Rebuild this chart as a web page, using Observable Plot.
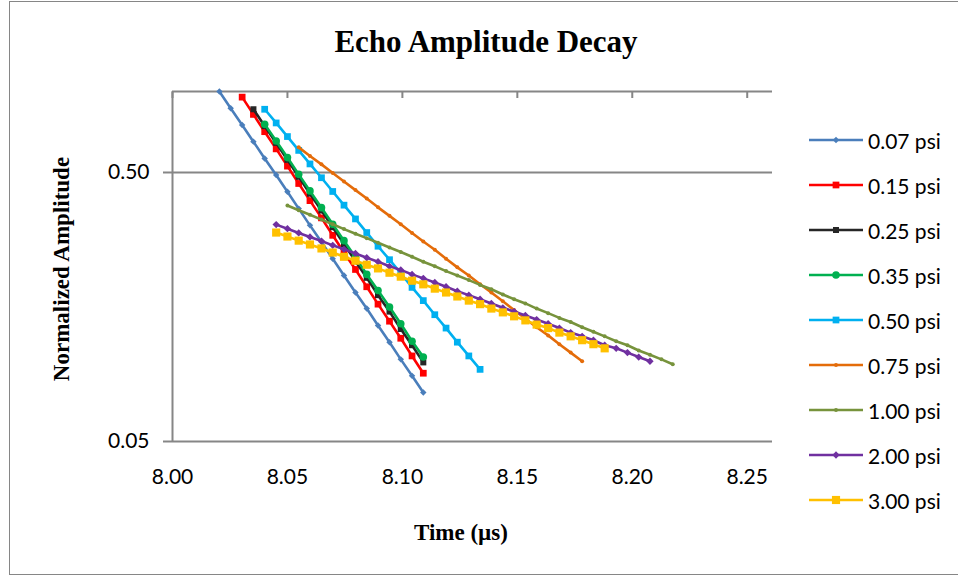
<!DOCTYPE html>
<html>
<head>
<meta charset="utf-8">
<script src="https://cdn.jsdelivr.net/npm/d3@7"></script>
<script src="https://cdn.jsdelivr.net/npm/@observablehq/plot@0.6"></script>
<style>
  body { margin: 0; background: #fff; }
  #wrap { position: relative; width: 958px; height: 577px; overflow: hidden; background: #fff; }
  #frame { position: absolute; left: 9px; top: 1px; width: 960px; height: 574px; border: 1px solid #868686; box-sizing: border-box; }
  .serif { position: absolute; font-family: "Liberation Serif", "Times New Roman", serif; font-weight: bold; color: #000; white-space: nowrap; }
  #title { left: 0; width: 972px; text-align: center; top: 22px; font-size: 31px; line-height: 40px; }
  #xlabel { left: 0; width: 922px; text-align: center; top: 518px; font-size: 23px; line-height: 30px; }
  #ylabel { left: 62px; top: 269px; font-size: 23px; line-height: 30px; transform: translate(-50%, -50%) rotate(-90deg); }
  #chart { position: absolute; left: 0; top: 0; }
  .leg { position: absolute; left: 809px; height: 24px; display: flex; align-items: center; font-family: Lato, "Open Sans", sans-serif; font-size: 21px; color: #000; white-space: nowrap; }
  .leg svg { margin-right: 5px; }
</style>
</head>
<body>
<div id="wrap">
  <div id="frame"></div>
  <div id="chart"></div>
  <div id="title" class="serif">Echo Amplitude Decay</div>
  <div id="xlabel" class="serif">Time (µs)</div>
  <div id="ylabel" class="serif">Normalized Amplitude</div>
</div>
<script>
// ---- data ----
const time = [8.0204, 8.0253, 8.0303, 8.0352, 8.0401, 8.0451, 8.0500, 8.0549, 8.0598, 8.0648,
              8.0697, 8.0746, 8.0796, 8.0845, 8.0894, 8.0944, 8.0993, 8.1042, 8.1091, 8.1141,
              8.1190, 8.1239, 8.1289, 8.1338, 8.1387, 8.1437, 8.1486, 8.1535, 8.1584, 8.1634,
              8.1683, 8.1732, 8.1782, 8.1831, 8.1880, 8.1930, 8.1979, 8.2028, 8.2077, 8.2127, 8.2176];

const seriesLabels = ["0.07 psi", "0.15 psi", "0.25 psi", "0.35 psi", "0.50 psi", "0.75 psi", "1.00 psi", "2.00 psi", "3.00 psi"];
// index into `time` of each series' first sample
const firstSample = [0, 2, 3, 4, 4, 7, 6, 5, 5];

const amp007 = [1.000, 0.867, 0.751, 0.651, 0.564, 0.489, 0.424, 0.367, 0.318, 0.276, 0.239, 0.207, 0.179, 0.156, 0.135, 0.117, 0.101, 0.0877, 0.0760];
const amp015 = [0.953, 0.822, 0.709, 0.612, 0.528, 0.455, 0.393, 0.339, 0.292, 0.252, 0.218, 0.188, 0.162, 0.140, 0.121, 0.104, 0.0897];
const amp025 = [0.859, 0.744, 0.644, 0.557, 0.482, 0.417, 0.361, 0.313, 0.271, 0.234, 0.203, 0.175, 0.152, 0.131, 0.114, 0.0984];
const amp035 = [0.755, 0.655, 0.568, 0.492, 0.427, 0.370, 0.321, 0.279, 0.242, 0.209, 0.182, 0.158, 0.137, 0.118, 0.103];
const amp050 = [0.859, 0.764, 0.680, 0.604, 0.538, 0.478, 0.425, 0.378, 0.336, 0.299, 0.266, 0.237, 0.211, 0.187, 0.167, 0.148, 0.132, 0.117, 0.104, 0.0927];
const amp075 = [0.620, 0.576, 0.536, 0.498, 0.463, 0.430, 0.400, 0.371, 0.345, 0.321, 0.298, 0.277, 0.258, 0.239, 0.222, 0.207, 0.192, 0.179, 0.166, 0.154, 0.143, 0.133, 0.124, 0.115, 0.107, 0.0994];
const amp100 = [0.377, 0.362, 0.348, 0.334, 0.321, 0.308, 0.296, 0.285, 0.274, 0.263, 0.253, 0.243, 0.233, 0.224, 0.215, 0.207, 0.199, 0.191, 0.184, 0.176, 0.169, 0.163, 0.156, 0.150, 0.144, 0.139, 0.133, 0.128, 0.123, 0.118, 0.114, 0.109, 0.105, 0.101, 0.0969];
const amp200 = [0.320, 0.309, 0.298, 0.288, 0.278, 0.268, 0.259, 0.250, 0.241, 0.233, 0.224, 0.217, 0.209, 0.202, 0.195, 0.188, 0.181, 0.175, 0.169, 0.163, 0.157, 0.152, 0.147, 0.142, 0.137, 0.132, 0.127, 0.123, 0.119, 0.114, 0.111, 0.107, 0.103, 0.0994];
const amp300 = [0.299, 0.289, 0.279, 0.270, 0.261, 0.252, 0.243, 0.235, 0.227, 0.220, 0.212, 0.205, 0.198, 0.192, 0.185, 0.179, 0.173, 0.167, 0.162, 0.156, 0.151, 0.146, 0.141, 0.136, 0.132, 0.127, 0.123, 0.119, 0.115, 0.111];

const xTicks = [8.00, 8.05, 8.10, 8.15, 8.20, 8.25];
const yTicks = [0.05, 0.50];

// ---- styles ----
const seriesColors = ["#4A7EBB", "#FF0000", "#262626", "#00B050", "#00B0F0", "#E46C0A", "#77933C", "#7030A0", "#FFC000"];
const seriesSymbols = ["diamond2", "square", "square", "circle", "square", "circle", "circle", "diamond2", "square"];
const seriesR = [2.9, 3.8, 3.4, 3.8, 3.8, 2.0, 2.0, 3.3, 4.6];

const amps = [amp007, amp015, amp025, amp035, amp050, amp075, amp100, amp200, amp300];
const seriesRows = amps.map((vals, i) => vals.map((v, j) => ({series: seriesLabels[i], t: time[firstSample[i] + j], v})));

const seriesMarks = [];
seriesRows.forEach((rows, i) => {
  seriesMarks.push(Plot.line(rows, {x: "t", y: "v", stroke: seriesColors[i], strokeWidth: 2.6}));
  seriesMarks.push(Plot.dot(rows, {x: "t", y: "v", symbol: () => seriesSymbols[i], r: seriesR[i], fill: seriesColors[i], stroke: "none"}));
});

const chart = Plot.plot({
  width: 958,
  height: 577,
  marginLeft: 172,
  marginRight: 186,
  marginTop: 91,
  marginBottom: 136,
  x: {domain: [8.00, 8.261]},
  y: {type: "log", domain: [0.05, 1.0]},
  symbol: {type: "identity"},
  style: {fontFamily: "Lato, 'Open Sans', sans-serif", fontSize: "21px", color: "#000", background: "transparent", overflow: "visible"},
  marks: [
    Plot.gridY(yTicks, {stroke: "#868686", strokeOpacity: 1, strokeWidth: 2}),
    Plot.ruleX([8.00], {stroke: "#868686", strokeWidth: 2}),
    Plot.ruleY([1.0], {stroke: "#868686", strokeWidth: 2}),
    Plot.axisY({ticks: yTicks, tickFormat: d => d.toFixed(2), tickSize: 9, tickPadding: 14, stroke: "#868686", strokeWidth: 2, label: null}),
    Plot.axisX({anchor: "top", ticks: xTicks, tickSize: -6, stroke: "#868686", strokeWidth: 2, fill: "none", label: null}),
    Plot.axisX({anchor: "bottom", ticks: xTicks, tickSize: 0, tickPadding: 28, tickFormat: d => d.toFixed(2), label: null}),
    ...seriesMarks
  ]
});
document.getElementById("chart").appendChild(chart);

// ---- legend ----
const symbolTypes = {circle: d3.symbolCircle, square: d3.symbolSquare, diamond2: d3.symbolDiamond2};
const wrap = document.getElementById("wrap");
seriesLabels.forEach((lab, i) => {
  const div = document.createElement("div");
  div.className = "leg";
  div.style.top = (140 + i * 45 - 12) + "px";
  const size = Math.PI * seriesR[i] * seriesR[i];
  const path = d3.symbol().type(symbolTypes[seriesSymbols[i]]).size(size)();
  div.innerHTML = `<svg width="54" height="24"><line x1="0" x2="54" y1="12" y2="12" stroke="${seriesColors[i]}" stroke-width="2.6"/>` +
    `<path d="${path}" transform="translate(27,12)" fill="${seriesColors[i]}"/></svg><span>${lab}</span>`;
  wrap.appendChild(div);
});
</script>
</body>
</html>
